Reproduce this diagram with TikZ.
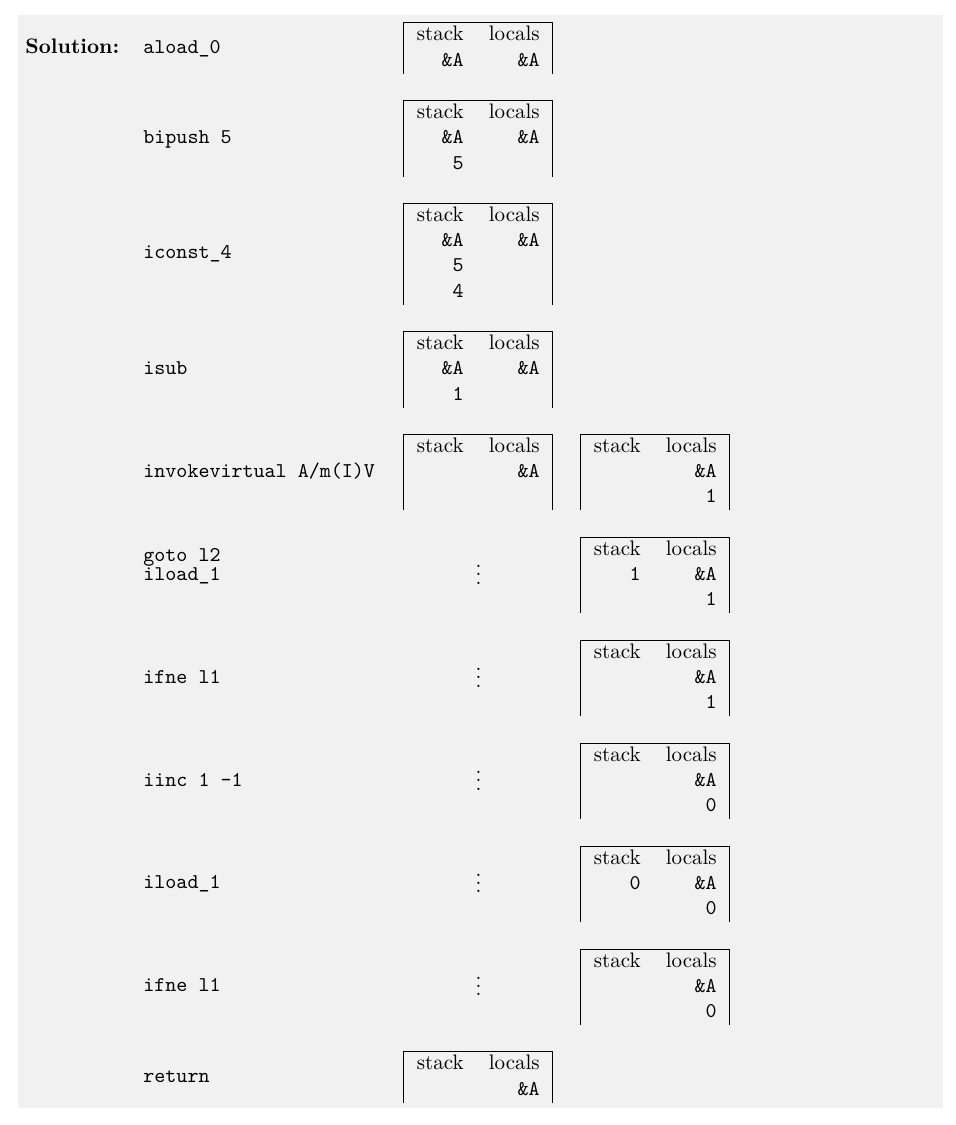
\documentclass[tikz,border=0pt]{standalone}
\usepackage{array}
\definecolor{bgc}{RGB}{241,241,241}
\newcommand{\stk}[1]{\begin{tabular}{|r r|}\hline stack & locals\\ #1\end{tabular}}
\newcommand{\refA}{\texttt{\&A}}
\newcommand{\tv}[1]{\texttt{#1}}
\tikzset{
  code/.style={anchor=base west, inner sep=0pt, font=\ttfamily},
  tbl/.style={anchor=north west, inner sep=0pt},
  dotsnode/.style={anchor=base, inner sep=0pt}
}
\begin{document}
\begin{tikzpicture}[x=0.47619pt, y=-0.47619pt]
\useasboundingbox (0,0) rectangle (955,1125);
\fill[bgc] (18,15) rectangle (943,1108);
% row 1
\node[anchor=base west, inner sep=0pt, font=\bfseries] (sol) at (25,53.1) {Solution:};
\node[code] (c1) at (143,53.1) {aload\_0};
\node[tbl] (t1) at (403,22) {\stk{\refA & \refA\\}};
% row 2
\node[code] (c2) at (143,143.4) {bipush 5};
\node[tbl] (t2) at (403,99.7) {\stk{\refA & \refA\\ \tv{5} & \\}};
% row 3
\node[code] (c3) at (143,258.9) {iconst\_4};
\node[tbl] (t3) at (403,202.6) {\stk{\refA & \refA\\ \tv{5} & \\ \tv{4} & \\}};
% row 4
\node[code] (c4) at (143,374.4) {isub};
\node[tbl] (t4) at (403,330.7) {\stk{\refA & \refA\\ \tv{1} & \\}};
% row 5
\node[code] (c5) at (143,477.3) {invokevirtual A/m(I)V};
\node[tbl] (t5) at (403,433.6) {\stk{ & \refA\\ & \\}};
\node[tbl] (r5) at (580,433.6) {\stk{ & \refA\\ & \tv{1}\\}};
% row 6
\node[code] (c6a) at (143,561.7) {goto l2};
\node[code] (c6b) at (143,580.2) {iload\_1};
\node[dotsnode] (d6) at (478.5,584.2) {$\vdots$};
\node[tbl] (r6) at (580,536.5) {\stk{\tv{1} & \refA\\ & \tv{1}\\}};
% row 7
\node[code] (c7) at (143,683.1) {ifne l1};
\node[dotsnode] (d7) at (478.5,687.1) {$\vdots$};
\node[tbl] (r7) at (580,639.4) {\stk{ & \refA\\ & \tv{1}\\}};
% row 8
\node[code] (c8) at (143,786.0) {iinc 1 -1};
\node[dotsnode] (d8) at (478.5,790.0) {$\vdots$};
\node[tbl] (r8) at (580,742.3) {\stk{ & \refA\\ & \tv{0}\\}};
% row 9
\node[code] (c9) at (143,888.9) {iload\_1};
\node[dotsnode] (d9) at (478.5,892.9) {$\vdots$};
\node[tbl] (r9) at (580,845.2) {\stk{\tv{0} & \refA\\ & \tv{0}\\}};
% row 10
\node[code] (c10) at (143,991.8) {ifne l1};
\node[dotsnode] (d10) at (478.5,995.8) {$\vdots$};
\node[tbl] (r10) at (580,948.1) {\stk{ & \refA\\ & \tv{0}\\}};
% row 11
\node[code] (c11) at (143,1082.1) {return};
\node[tbl] (t11) at (403,1051) {\stk{ & \refA\\}};
\end{tikzpicture}
\end{document}
